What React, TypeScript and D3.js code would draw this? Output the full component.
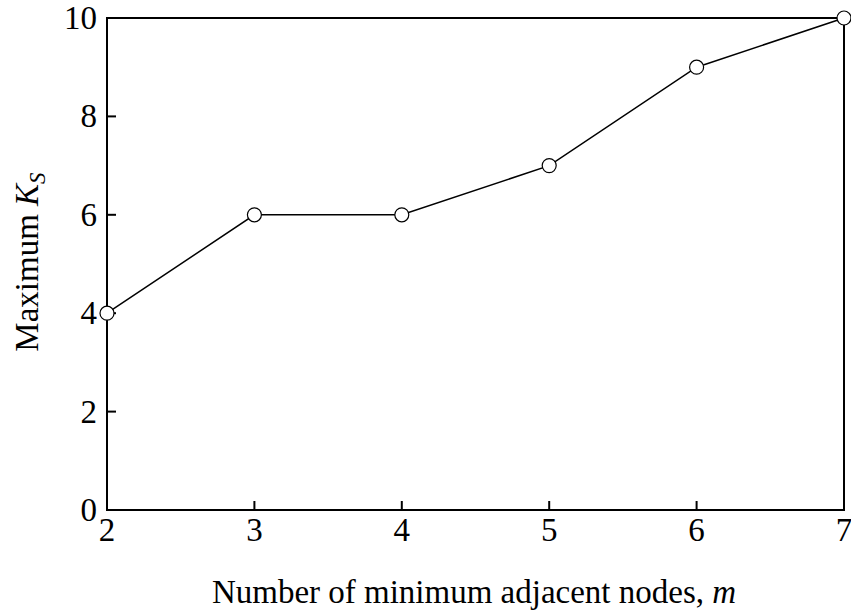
import React from "react";
import * as d3 from "d3";

const mValues = [2, 3, 4, 5, 6, 7];
const maxKs = [4, 6, 6, 7, 9, 10];
const xTicks = [2, 3, 4, 5, 6, 7];
const yTicks = [0, 2, 4, 6, 8, 10];

export default function App() {
  const W = 851, H = 611;
  const L = 107, R = 844, T = 18, B = 510;
  const x = d3.scaleLinear().domain([2, 7]).range([L, R]);
  const y = d3.scaleLinear().domain([0, 10]).range([B, T]);
  const pts = mValues.map((m, i) => [m, maxKs[i]] as [number, number]);
  const line = d3.line<[number, number]>().x(d => x(d[0])).y(d => y(d[1]));
  const font = "Liberation Serif";
  const fs = 33;
  return (
    <svg width={W} height={H} style={{ position: "absolute", left: 0, top: 0, background: "#fff", fontFamily: font }}>
      <rect x={L} y={T} width={R - L} height={B - T} fill="none" stroke="#000" strokeWidth={2} />
      {xTicks.map(t => (
        <g key={"x" + t}>
          <line x1={x(t)} x2={x(t)} y1={B} y2={B - 9} stroke="#000" strokeWidth={2} />
          <text x={x(t)} y={B + 31} textAnchor="middle" style={{ fontFamily: font, fontSize: fs }}>{t}</text>
        </g>
      ))}
      {yTicks.map(t => (
        <g key={"y" + t}>
          <line x1={L} x2={L + 9} y1={y(t)} y2={y(t)} stroke="#000" strokeWidth={2} />
          <text x={L - 10} y={y(t) + 11} textAnchor="end" style={{ fontFamily: font, fontSize: fs }}>{t}</text>
        </g>
      ))}
      <path d={line(pts) || ""} fill="none" stroke="#000" strokeWidth={1.5} />
      {pts.map((p, i) => (
        <circle key={i} cx={x(p[0])} cy={y(p[1])} r={7} fill="#fff" stroke="#000" strokeWidth={1.2} />
      ))}
      <text x={474} y={603} textAnchor="middle" style={{ fontFamily: font, fontSize: fs }}>
        Number of minimum adjacent nodes, <tspan fontStyle="italic">m</tspan>
      </text>
      <text transform={`translate(38, 262) rotate(-90)`} textAnchor="middle" style={{ fontFamily: font, fontSize: fs }}>
        Maximum <tspan fontStyle="italic">K</tspan><tspan fontStyle="italic" fontSize={23} dy={7}>S</tspan>
      </text>
    </svg>
  );
}
